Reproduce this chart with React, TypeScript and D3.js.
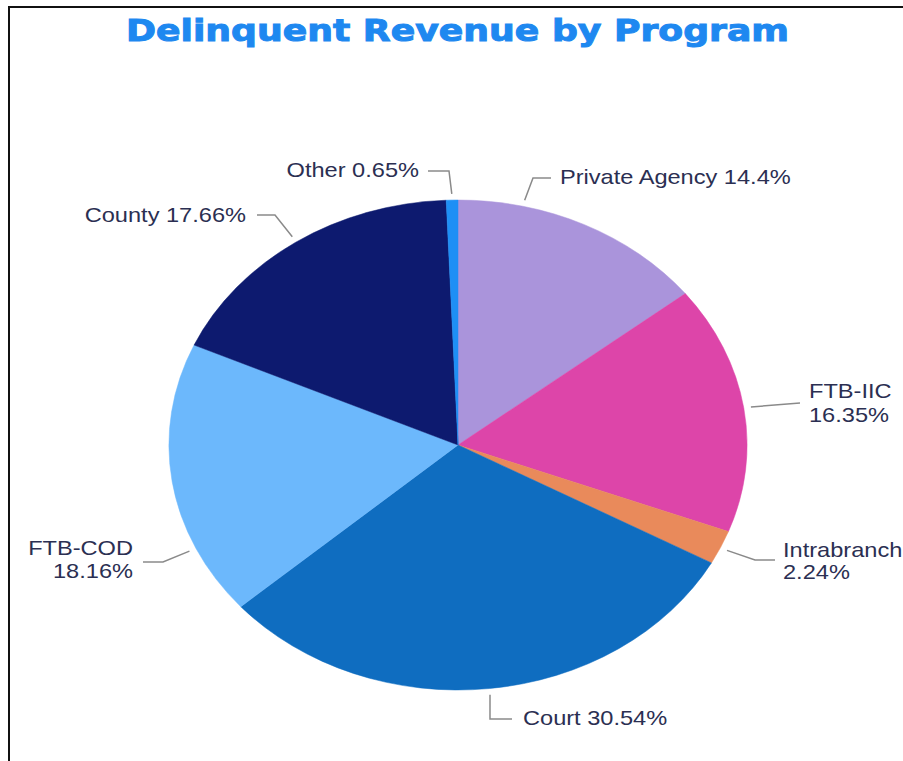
import React from "react";
import * as d3 from "d3";

const categories = ["Private Agency", "FTB-IIC", "Intrabranch", "Court", "FTB-COD", "County", "Other"];
const values = [14.4, 16.35, 2.24, 30.54, 18.16, 17.66, 0.65];
const valueLabels = ["14.4%", "16.35%", "2.24%", "30.54%", "18.16%", "17.66%", "0.65%"];
const colors = ["#AA94DB", "#DD45A9", "#E98A5B", "#0F6DC0", "#6CB8FC", "#0D1A6F", "#1E8FF5"];
const title = "Delinquent Revenue by Program";

// label layout (real pixel coords); anchor angle in degrees clockwise from top
const labelLayout = [
  { anchorDeg: 13, elbow: [533, 178], end: [551, 178], tx: 560, base: [184], align: "start", twoLine: false },
  { anchorDeg: 81.3, elbow: [800, 403], end: [800, 403], tx: 809, base: [398, 422], align: "start", twoLine: true },
  { anchorDeg: 114.8, elbow: [755, 560], end: [775, 560], tx: 783, base: [557, 579], align: "start", twoLine: true },
  { anchorDeg: 173.8, elbow: [490, 719], end: [512, 719], tx: 523, base: [725], align: "start", twoLine: false },
  { anchorDeg: 245, elbow: [163, 562], end: [143, 562], tx: 133, base: [555, 578], align: "end", twoLine: true },
  { anchorDeg: 326, elbow: [275, 215], end: [257, 215], tx: 246, base: [222], align: "end", twoLine: false },
  { anchorDeg: 358.8, elbow: [449, 171], end: [428, 171], tx: 419, base: [177], align: "end", twoLine: false },
];

const W = 903;
const H = 761;
const SX = 1.18; // horizontal stretch
const CX = 458;
const CY = 445;
const R = 245;

export default function App() {
  const pie = d3.pie<number>().sort(null).value((d) => d).startAngle(0).endAngle(2 * Math.PI);
  const arcs = pie(values);
  const arc = d3.arc<d3.PieArcDatum<number>>().innerRadius(0).outerRadius(R);
  const vx = (x: number) => x / SX;

  return (
    <svg
      width={W}
      height={H}
      style={{ position: "absolute", left: 0, top: 0, background: "#fff" }}
    >
      <rect x={0} y={0} width={W} height={H} fill="#fff" />
      <line x1={8} y1={7} x2={W} y2={7} stroke="#111" strokeWidth={2} />
      <line x1={9} y1={7} x2={9} y2={H} stroke="#111" strokeWidth={2} />
      <g transform={`scale(${SX},1)`}>
        <text
          x={vx(457.5)}
          y={41}
          textAnchor="middle"
          fontFamily="'DejaVu Sans', sans-serif"
          fontWeight={900}
          fontSize={30}
          fill="#1E88F0"
          stroke="#1E88F0"
          strokeWidth={1}
          textLength={(789 - 126) / SX}
          lengthAdjust="spacingAndGlyphs"
        >
          {title}
        </text>
        <g transform={`translate(${vx(CX)},${CY})`}>
          {arcs.map((a, i) => (
            <path key={i} d={arc(a) || ""} fill={colors[i]} stroke={colors[i]} strokeWidth={0.5} vectorEffect="non-scaling-stroke" />
          ))}
        </g>
        {labelLayout.map((L, i) => {
          const t = (L.anchorDeg * Math.PI) / 180;
          const r = R * 1.025;
          const sx = vx(CX) + r * Math.sin(t);
          const sy = CY - r * Math.cos(t);
          const pts = [
            [sx, sy],
            [vx(L.elbow[0]), L.elbow[1]],
            [vx(L.end[0]), L.end[1]],
          ];
          const lines = L.twoLine ? [categories[i], valueLabels[i]] : [`${categories[i]} ${valueLabels[i]}`];
          return (
            <g key={i}>
              <path
                d={d3.line()(pts as [number, number][]) || ""}
                fill="none"
                stroke="#8a8a8a"
                strokeWidth={1.5}
                vectorEffect="non-scaling-stroke"
              />
              {lines.map((s, j) => (
                <text
                  key={j}
                  x={vx(L.tx)}
                  y={L.base[j]}
                  textAnchor={L.align as any}
                  fontFamily="'Liberation Sans', Arial, sans-serif"
                  fontSize={20}
                  fill="#2B2F52"
                >
                  {s}
                </text>
              ))}
            </g>
          );
        })}
      </g>
    </svg>
  );
}
